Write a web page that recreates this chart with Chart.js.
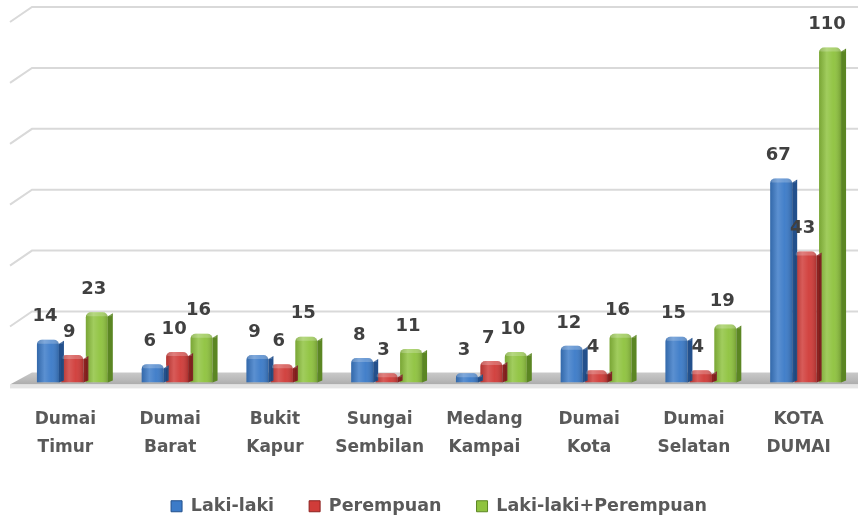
<!DOCTYPE html>
<html>
<head>
<meta charset="utf-8">
<script src="https://cdn.jsdelivr.net/npm/chart.js@4.4.1/dist/chart.umd.min.js"></script>
<style>
  html, body { margin: 0; padding: 0; background: #fff; }
  #wrap { width: 858px; height: 520px; }
</style>
</head>
<body>
<div id="wrap"><canvas id="chart"></canvas></div>
<script>
// data
const categories = [
    ['Dumai', 'Timur'], ['Dumai', 'Barat'], ['Bukit', 'Kapur'], ['Sungai', 'Sembilan'],
    ['Medang', 'Kampai'], ['Dumai', 'Kota'], ['Dumai', 'Selatan'], ['KOTA', 'DUMAI']
];
const lakiLaki  = [14, 6, 9, 8, 3, 12, 15, 67];
const perempuan = [9, 10, 6, 3, 7, 4, 4, 43];
const total     = [23, 16, 15, 11, 10, 16, 19, 110];
const gridValues = [0, 20, 40, 60, 80, 100, 120];

const FONT = "'Comic Sans MS', 'DejaVu Sans', sans-serif";

// back wall gridlines + floor, faked 3D
const wallPlugin = {
    id: 'wall',
    beforeDatasetsDraw(chart) {
        const { ctx, chartArea: a, scales: { y } } = chart;
        const y0 = y.getPixelForValue(0);
        ctx.save();
        ctx.strokeStyle = '#d9d9d9';
        ctx.lineWidth = 2;
        gridValues.forEach(v => {
            if (v === 0) return;
            const p = y.getPixelForValue(v);
            ctx.beginPath();
            ctx.moveTo(a.left - 10, p + 5);
            ctx.lineTo(a.left + 12, p - 10);
            ctx.lineTo(a.right, p - 10);
            ctx.stroke();
        });
        // floor
        const g = ctx.createLinearGradient(0, y0 - 10, 0, y0 + 3);
        g.addColorStop(0, '#c9c9c9');
        g.addColorStop(0.6, '#b8b8b8');
        g.addColorStop(1, '#a9a9a9');
        ctx.fillStyle = g;
        ctx.beginPath();
        ctx.moveTo(a.left + 12, y0 - 10);
        ctx.lineTo(a.right, y0 - 10);
        ctx.lineTo(a.right, y0 + 2);
        ctx.lineTo(a.left - 10, y0 + 2);
        ctx.closePath();
        ctx.fill();
        ctx.fillStyle = '#e4e4e4';
        ctx.fillRect(a.left - 10, y0 + 2, a.right - a.left + 10, 4);
        ctx.restore();
    }
};

// shading, side faces and value labels on the bars
const barPlugin = {
    id: 'bars3d',
    afterDatasetsDraw(chart) {
        const ctx = chart.ctx;
        ctx.save();
        chart.data.datasets.forEach((ds, di) => {
            const meta = chart.getDatasetMeta(di);
            meta.data.forEach(el => {
                const w = el.width, left = el.x - w / 2, right = el.x + w / 2;
                const top = el.y, base = el.base;
                // side face
                ctx.fillStyle = ds.sideColor;
                ctx.beginPath();
                ctx.moveTo(right, top + 4);
                ctx.lineTo(right + 5, top + 1);
                ctx.lineTo(right + 5, base - 2);
                ctx.lineTo(right, base);
                ctx.closePath();
                ctx.fill();
                // shine
                const sh = ctx.createLinearGradient(left, 0, right, 0);
                sh.addColorStop(0, 'rgba(0,0,0,0.15)');
                sh.addColorStop(0.35, 'rgba(255,255,255,0.16)');
                sh.addColorStop(0.65, 'rgba(255,255,255,0.04)');
                sh.addColorStop(1, 'rgba(0,0,0,0.18)');
                ctx.fillStyle = sh;
                ctx.beginPath();
                ctx.roundRect(left, top, w, base - top, [5, 5, 0, 0]);
                ctx.fill();
                // lighter top cap
                ctx.fillStyle = 'rgba(255,255,255,0.22)';
                ctx.beginPath();
                ctx.roundRect(left + 1, top, w + 3, 4, [4, 4, 1, 1]);
                ctx.fill();
            });
        });
        // value labels
        ctx.font = "bold 18px " + FONT;
        ctx.fillStyle = '#404040';
        ctx.textAlign = 'center';
        ctx.textBaseline = 'middle';
        chart.data.datasets.forEach((ds, di) => {
            chart.getDatasetMeta(di).data.forEach((el, i) => {
                ctx.fillText(ds.data[i], el.x - 3, el.y - 23);
            });
        });
        ctx.restore();
    }
};

const barStyle = {
    borderRadius: { topLeft: 5, topRight: 5 },
    borderSkipped: 'bottom',
    barPercentage: 0.9,
    categoryPercentage: 0.7
};

new Chart(document.getElementById('chart'), {
    type: 'bar',
    data: {
        labels: categories,
        datasets: [
            { label: 'Laki-laki', data: lakiLaki, backgroundColor: '#3c7bc8', sideColor: '#23508c', ...barStyle },
            { label: 'Perempuan', data: perempuan, backgroundColor: '#d03c39', sideColor: '#8c2220', ...barStyle },
            { label: 'Laki-laki+Perempuan', data: total, backgroundColor: '#8fc33f', sideColor: '#5b8623', ...barStyle }
        ]
    },
    options: {
        responsive: true,
        maintainAspectRatio: false,
        animation: false,
        layout: { padding: { top: 17, left: 20, right: 0, bottom: -5 } },
        plugins: {
            legend: {
                position: 'bottom',
                labels: {
                    boxWidth: 11,
                    boxHeight: 11,
                    padding: 35,
                    color: '#595959',
                    font: { family: FONT, size: 17.5, weight: 'bold' },
                    generateLabels(chart) {
                        return Chart.defaults.plugins.legend.labels.generateLabels(chart).map((l, i) => {
                            l.strokeStyle = chart.data.datasets[i].sideColor;
                            l.lineWidth = 1;
                            return l;
                        });
                    }
                }
            },
            tooltip: { enabled: false }
        },
        scales: {
            x: {
                grid: { display: false, drawTicks: true, tickLength: 22 },
                border: { display: false },
                ticks: {
                    color: '#595959',
                    font: { family: FONT, size: 17, weight: 'bold', lineHeight: 1.65 },
                    padding: 1,
                    labelOffset: -7,
                    maxRotation: 0,
                    autoSkip: false
                }
            },
            y: {
                display: false,
                min: 0,
                max: 120
            }
        }
    },
    plugins: [wallPlugin, barPlugin]
});
</script>
</body>
</html>
